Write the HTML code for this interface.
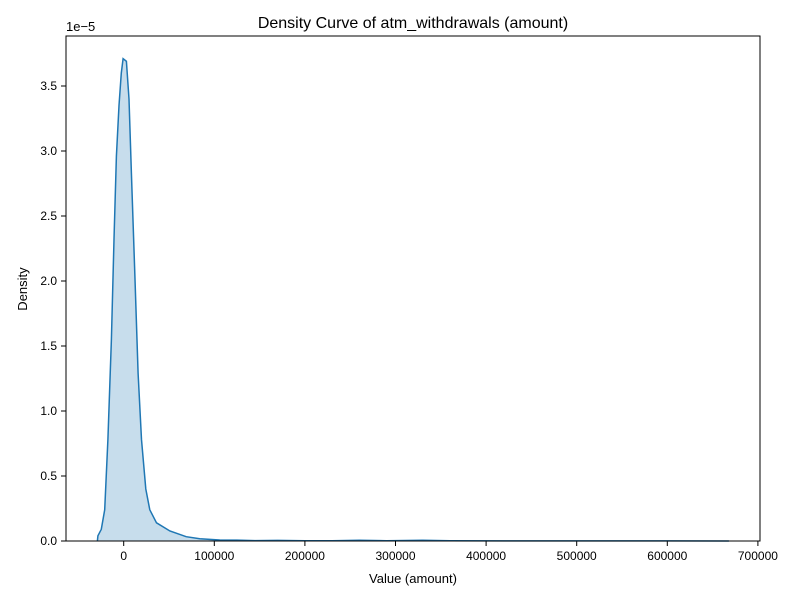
<!DOCTYPE html>
<html><head><meta charset="utf-8"><style>
body{margin:0;background:#fff;}
svg{display:block;font-family:"Liberation Sans","DejaVu Sans",sans-serif;}
</style></head><body>
<svg id="chart" width="800" height="600" viewBox="0 0 800 600">
<rect width="800" height="600" fill="#fff"/>
<text x="413" y="28" font-size="16" text-anchor="middle">Density Curve of atm_withdrawals (amount)</text>
<text x="413" y="583" font-size="13" text-anchor="middle">Value (amount)</text>
<text x="27" y="289" font-size="13" text-anchor="middle" transform="rotate(-90 27 289)">Density</text>
<text x="66" y="31" font-size="13">1e−5</text>
<g id="plot"></g>
<rect x="66" y="36" width="694" height="505" fill="none" stroke="#000" stroke-width="1"/>
</svg>
<script>
const xVals=[-29,-28.5,-24.7,-21,-17.4,-13.6,-10.7,-8.1,-5.2,-2.6,-0.7,3,5.9,8.5,12.2,15.9,19.6,24.4,28.8,36.2,51,69,84,106,125,145,170,200,230,260,290,330,360,420,500,600,668];
const yVals=[0,0.04,0.09,0.24,0.78,1.55,2.32,2.96,3.35,3.60,3.71,3.69,3.40,2.83,2.06,1.29,0.78,0.40,0.24,0.14,0.077,0.033,0.018,0.008,0.007,0.003,0.005,0.002,0.002,0.006,0.002,0.006,0.002,0.001,0.001,0.001,0];
const xTicks=[0,100000,200000,300000,400000,500000,600000,700000];
const yTicks=[0,0.5,1.0,1.5,2.0,2.5,3.0,3.5];
const NS="http://www.w3.org/2000/svg";
const X=v=>123.7+v*0.000906;
const Y=v=>541-v*130;
const g=document.getElementById('plot');
function mk(t,a){const e=document.createElementNS(NS,t);for(const k in a)e.setAttribute(k,a[k]);return e;}
xTicks.forEach(t=>{
 const l=mk('line',{x1:X(t),x2:X(t),y1:541,y2:546,stroke:'#000'});
 
 
 g.appendChild(l);
 const tx=mk('text',{x:X(t),y:560,'font-size':12,'text-anchor':'middle'});
 tx.textContent=String(t);
 
 
 g.appendChild(tx);
});
yTicks.forEach(t=>{
 const l=mk('line',{x1:61,x2:66,y1:Y(t),y2:Y(t),stroke:'#000'});
 
 
 g.appendChild(l);
 const tx=mk('text',{x:57,y:Y(t)+4,'font-size':12,'text-anchor':'end'});
 tx.textContent=t.toFixed(1);
 
 
 g.appendChild(tx);
});
const pts=xVals.map((x,i)=>X(x*1000).toFixed(1)+','+Y(yVals[i]).toFixed(1));
const area=mk('path',{d:'M'+X(xVals[0]*1000)+','+Y(0)+' L'+pts.join(' L')+' L'+X(xVals[xVals.length-1]*1000)+','+Y(0)+'Z',fill:'#1f77b4','fill-opacity':0.25,stroke:'none'});


g.appendChild(area);
const line=mk('path',{d:'M'+pts.join(' L'),fill:'none',stroke:'#1f77b4','stroke-width':1.5});


g.appendChild(line);
</script>
</body></html>
